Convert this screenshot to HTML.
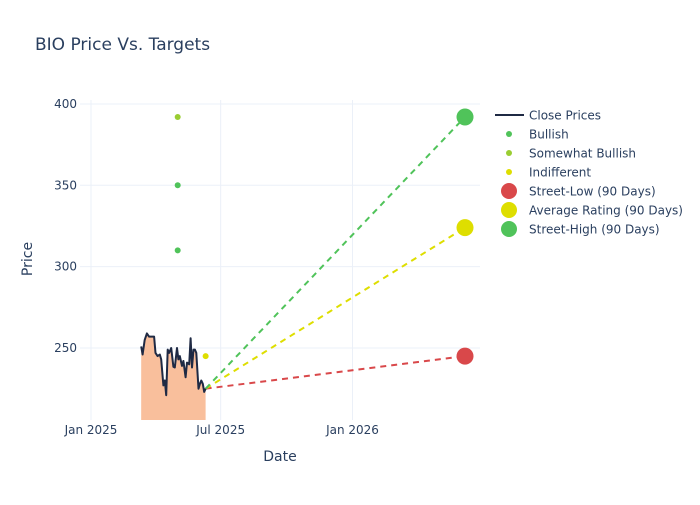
<!DOCTYPE html>
<html><head><meta charset="utf-8"><style>
body{margin:0;background:#fff;font-family:"Liberation Sans","DejaVu Sans",sans-serif;}
svg text{font-family:"DejaVu Sans","Liberation Sans",sans-serif;fill:#2a3f5f;}
</style></head><body>
<svg id="chart" width="700" height="500" xmlns="http://www.w3.org/2000/svg">
<rect width="700" height="500" fill="#fff"/>
<text x="35" y="50" font-size="17">BIO Price Vs. Targets</text>
<g id="grid"></g>
<g id="marks"></g>
<g id="axes"></g>
<text x="280" y="461" font-size="14" text-anchor="middle">Date</text>
<text x="32" y="259" font-size="14" text-anchor="middle" transform="rotate(-90 32 259)">Price</text>
<g id="legend"></g>
</svg>
<script>
const closeDates = ["2025-03-12","2025-03-14","2025-03-17","2025-03-20","2025-03-23","2025-03-27","2025-03-30","2025-04-01","2025-04-04","2025-04-07","2025-04-09","2025-04-12","2025-04-14","2025-04-16","2025-04-18","2025-04-20","2025-04-23","2025-04-26","2025-04-28","2025-05-01","2025-05-03","2025-05-05","2025-05-08","2025-05-10","2025-05-13","2025-05-15","2025-05-18","2025-05-20","2025-05-22","2025-05-24","2025-05-26","2025-05-28","2025-05-31","2025-06-02","2025-06-04","2025-06-06","2025-06-08","2025-06-10"];
const closePrices = [251,246,255,259,257,257,257,247,245,246,243,227,230,221,249,247,250,238.5,238,250,243,245,239,242,232,241,240,256,238,249,249,247,225,228,230,228,223,225];
const bullishDates = ["2025-05-02","2025-05-02"];
const bullishValues = [350,310];
const somewhatBullishDates = ["2025-05-02"];
const somewhatBullishValues = [392];
const indifferentDates = ["2025-06-10"];
const indifferentValues = [245];
const targetDate = "2026-06-07";
const streetLow = 245;
const averageRating = 324;
const streetHigh = 392;
const yTicks = [250,300,350,400];
const xTickDates = ["2025-01-01","2025-07-01","2026-01-01"];
const xTickLabels = ["Jan 2025","Jul 2025","Jan 2026"];

const NS="http://www.w3.org/2000/svg";
const L=80,R=480,T=100,B=420;
const d0=Date.UTC(2025,0,1);
function day(s){const p=s.split("-");return (Date.UTC(+p[0],+p[1]-1,+p[2])-d0)/864e5;}
function X(s){return 91+day(s)*0.7165;}
function Y(v){return 348-(v-250)*1.627;}
function mk(tag,attrs,parent){const e=document.createElementNS(NS,tag);for(const k in attrs)e.setAttribute(k,attrs[k]);parent.appendChild(e);return e;}
const grid=document.getElementById("grid"),marks=document.getElementById("marks"),axes=document.getElementById("axes"),leg=document.getElementById("legend");

yTicks.forEach(v=>{
  const l=mk("line",{x1:L,x2:R,y1:Y(v),y2:Y(v),stroke:"#ebf0f8","stroke-width":1},grid);
  
  
  const t=mk("text",{x:L-3,y:Y(v)+4,"font-size":12,"text-anchor":"end"},axes);
  t.textContent=v;
  
  
});
xTickDates.forEach((d,i)=>{
  const l=mk("line",{x1:X(d),x2:X(d),y1:T,y2:B,stroke:"#ebf0f8","stroke-width":1},grid);
  
  
  const t=mk("text",{x:X(d),y:B+14,"font-size":12,"text-anchor":"middle"},axes);
  t.textContent=xTickLabels[i];
  
  
});

const clip=mk("clipPath",{id:"pc"},marks);mk("rect",{x:L,y:T,width:R-L,height:B-T},clip);
const g=mk("g",{"clip-path":"url(#pc)"},marks);

let pts=closeDates.map((d,i)=>X(d).toFixed(1)+","+Y(closePrices[i]).toFixed(1));
const area=mk("polygon",{points:X(closeDates[0])+","+(B+50)+" "+pts.join(" ")+" "+X(closeDates[closeDates.length-1])+","+(B+50),fill:"#f9bf9c",stroke:"none"},g);



const lastD=closeDates[closeDates.length-1],lastV=closePrices[closePrices.length-1];
[[streetLow,"#d9484a","street-low-line"],[averageRating,"#dede00","average-rating-line"],[streetHigh,"#50c35a","street-high-line"]].forEach(a=>{
  const l=mk("line",{x1:X(lastD),y1:Y(lastV),x2:X(targetDate),y2:Y(a[0]),stroke:a[1],"stroke-width":2,"stroke-dasharray":"6,5"},g);
  
  
});

const line=mk("polyline",{points:pts.join(" "),fill:"none",stroke:"#1f2a44","stroke-width":2,"stroke-linejoin":"round"},g);



function dots(ds,vs,r,c,name){ds.forEach((d,i)=>{const e=mk("circle",{cx:X(d),cy:Y(vs[i]),r:r,fill:c},g);
  
  });}
dots(bullishDates,bullishValues,3,"#50c35a","bullish-point");
dots(somewhatBullishDates,somewhatBullishValues,3,"#9acd32","somewhat-bullish-point");
dots(indifferentDates,indifferentValues,3,"#dede00","indifferent-point");
dots([targetDate],[streetLow],8.5,"#d9484a","street-low-marker");
dots([targetDate],[averageRating],8.5,"#dede00","average-rating-marker");
dots([targetDate],[streetHigh],8.5,"#50c35a","street-high-marker");

const items=[["Close Prices","line","#1f2a44"],["Bullish",3,"#50c35a"],["Somewhat Bullish",3,"#9acd32"],["Indifferent",3,"#dede00"],["Street-Low (90 Days)",8,"#d9484a"],["Average Rating (90 Days)",8,"#dede00"],["Street-High (90 Days)",8,"#50c35a"]];
items.forEach((it,i)=>{
  const y=115+i*19;
  const gi=mk("g",{},leg);
  
  
  if(it[1]==="line")mk("line",{x1:495,x2:524,y1:y,y2:y,stroke:it[2],"stroke-width":2},gi);
  else mk("circle",{cx:509,cy:y,r:it[1],fill:it[2]},gi);
  const t=mk("text",{x:529,y:y+4.5,"font-size":12},gi);t.textContent=it[0];
});
</script>
</body></html>
